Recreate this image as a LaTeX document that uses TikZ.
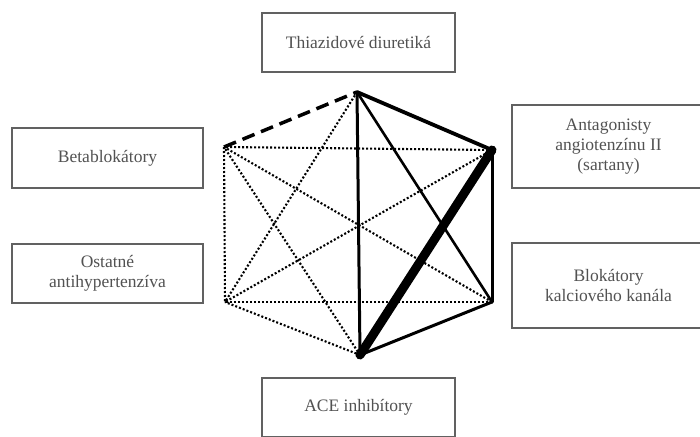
\documentclass[tikz,border=0pt]{standalone}
\usepackage{fontspec}
\setmainfont{Liberation Serif}
\begin{document}
\begin{tikzpicture}[x=1pt,y=-1pt,
  catbox/.style={draw=black!62, line width=1.8pt, inner sep=0pt, align=center,
    text=black!68, font=\fontsize{17.5}{20}\selectfont},
  dotline/.style={line width=2.1pt, black, dash pattern=on 2pt off 2pt},
  solidline/.style={line width=3pt, black, line cap=round},
  dashline/.style={line width=3.5pt, black, dash pattern=on 13pt off 7pt}]
\useasboundingbox (0,0) rectangle (700,436);
\clip (0,0) rectangle (700,436);
\fill[white] (0,0) rectangle (700,436);
% boxes
\node[catbox, minimum width=193pt, minimum height=59pt] (thi) at (358.5,42.5) {Thiazidové diuretiká};
\node[catbox, minimum width=193pt, minimum height=59pt] (ace) at (358.5,407.5) {ACE inhibítory};
\node[catbox, minimum width=191pt, minimum height=60pt] (bet) at (107.5,158) {Betablokátory};
\node[catbox, minimum width=191pt, minimum height=59pt] (ost) at (107.5,273.5) {Ostatné\\antihypertenzíva};
\node[catbox, minimum width=193pt, minimum height=83pt] (ant) at (608.5,146.5) {Antagonisty\\angiotenzínu II\\(sartany)};
\node[catbox, minimum width=193pt, minimum height=85pt] (blk) at (608.5,285.5) {Blokátory\\kalciového kanála};
% vertices
\coordinate (T) at (357,92);
\coordinate (UR) at (492,150);
\coordinate (LR) at (492,302);
\coordinate (B) at (360,355);
\coordinate (LL) at (225,302);
\coordinate (UL) at (224,147);
% dotted edges
\draw[dotline] (T) -- (LL);
\draw[dotline] (UR) -- (UL);
\draw[dotline] (UR) -- (LL);
\draw[dotline] (LR) -- (UL);
\draw[dotline] (LR) -- (LL);
\draw[dotline] (B) -- (UL);
\draw[dotline] (B) -- (LL);
\draw[dotline] (UL) -- (LL);
% dashed edge
\draw[dashline] (UL) -- (T);
% solid edges
\draw[solidline, line width=3.8pt] (T) -- (UR);
\draw[solidline] (T) -- (B);
\draw[solidline, line width=2.6pt] (T) -- (LR);
\draw[solidline] (UR) -- (LR);
\draw[solidline] (LR) -- (B);
\draw[solidline, line width=9pt] (UR) -- (B);
\end{tikzpicture}
\end{document}
